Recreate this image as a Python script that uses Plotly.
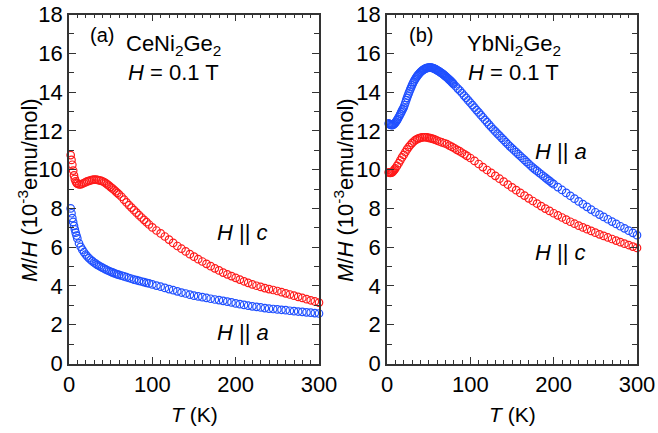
import plotly.graph_objects as go

# Temperature grid (K) used for CeNi2Ge2 and YbNi2Ge2 H||c
T = [2, 3, 4, 5, 6, 7, 8, 9, 10,
     12, 14, 16, 18, 20, 22, 24, 26, 28, 30, 32, 34, 36, 38, 40, 42, 44, 46, 48, 50,
     52, 54, 56, 58, 60,
     63, 66, 69, 72, 75, 78, 81, 84, 87, 90, 93, 96,
     100, 105, 110, 115, 120, 125, 130, 135, 140, 145, 150, 155, 160, 165, 170, 175,
     180, 185, 190, 195, 200, 205, 210, 215, 220, 225, 230, 235, 240, 245, 250, 255,
     260, 265, 270, 275, 280, 285, 290, 295, 300]

# denser temperature grid for YbNi2Ge2 H||a
T_yb_a = [2, 3, 4, 5, 6, 7, 8, 9, 10, 11, 12, 13, 14, 15, 16, 17, 18, 19, 20,
          21, 22, 23, 24, 25, 26, 27, 28, 29, 30, 31, 32, 33, 34, 35, 36, 37, 38, 39, 40,
          41, 42, 43, 44, 45, 46, 47, 48, 49, 50, 51, 52, 53, 54, 55, 56, 57, 58, 59, 60,
          61, 62, 63, 64, 65, 66, 67, 68, 69, 70, 71, 72, 73, 74, 75, 76, 77, 78, 79, 80,
          82.5, 85, 87.5, 90, 92.5, 95, 97.5, 100, 102.5, 105, 107.5, 110, 112.5, 115, 117.5, 120,
          122.5, 125, 127.5, 130, 132.5, 135, 137.5, 140, 142.5, 145, 147.5, 150, 152.5, 155, 157.5, 160,
          162.5, 165, 167.5, 170, 172.5, 175, 177.5, 180, 182.5, 185, 187.5, 190, 192.5, 195, 197.5, 200,
          205, 210, 215, 220, 225, 230, 235, 240, 245, 250, 255, 260, 265, 270, 275, 280,
          285, 290, 295, 300]

# (a) CeNi2Ge2, M/H in 1e-3 emu/mol
ce_c = [10.75, 10.5, 10.25, 9.95, 9.7, 9.52, 9.4, 9.32, 9.28,
        9.24, 9.24, 9.27, 9.31, 9.35, 9.39, 9.42, 9.45, 9.47, 9.48, 9.48, 9.47, 9.45, 9.43, 9.4, 9.36, 9.3, 9.24, 9.17, 9.1,
        9.03, 8.96, 8.88, 8.8, 8.72,
        8.6, 8.45, 8.31, 8.17, 8.04, 7.91, 7.78, 7.65, 7.53, 7.41, 7.29, 7.17,
        7.02, 6.86, 6.71, 6.55, 6.39, 6.22, 6.06, 5.92, 5.78, 5.64, 5.51, 5.38, 5.26, 5.14, 5.02, 4.91,
        4.8, 4.69, 4.6, 4.51, 4.42, 4.33, 4.24, 4.16, 4.08, 4.01, 3.95, 3.89, 3.84, 3.79, 3.74, 3.68,
        3.62, 3.56, 3.5, 3.44, 3.38, 3.32, 3.26, 3.2, 3.14]
ce_a = [8.0, 7.75, 7.5, 7.3, 7.1, 6.92, 6.75, 6.6, 6.45,
        6.2, 6.02, 5.87, 5.74, 5.62, 5.52, 5.43, 5.35, 5.28, 5.21, 5.15, 5.09, 5.04, 4.99, 4.94, 4.9, 4.85, 4.81, 4.77, 4.73,
        4.7, 4.66, 4.63, 4.6, 4.57,
        4.53, 4.49, 4.45, 4.41, 4.37, 4.33, 4.3, 4.26, 4.23, 4.2, 4.16, 4.13,
        4.08, 4.02, 3.96, 3.9, 3.84, 3.78, 3.72, 3.66, 3.61, 3.55, 3.5, 3.46, 3.42, 3.38, 3.34, 3.3,
        3.27, 3.23, 3.19, 3.15, 3.1, 3.06, 3.02, 2.98, 2.95, 2.92, 2.89, 2.86, 2.83, 2.81, 2.79, 2.77,
        2.75, 2.72, 2.7, 2.68, 2.66, 2.64, 2.62, 2.6, 2.58]

# (b) YbNi2Ge2
yb_a = [12.38, 12.35, 12.32, 12.3, 12.29, 12.3, 12.33, 12.37, 12.42, 12.48, 12.55, 12.62, 12.7, 12.78, 12.87, 12.95, 13.04, 13.12, 13.2,
        13.32, 13.45, 13.58, 13.7, 13.82, 13.93, 14.04, 14.15, 14.25, 14.35, 14.44, 14.53, 14.61, 14.68, 14.75, 14.81, 14.87, 14.92, 14.97, 15.02,
        15.06, 15.1, 15.13, 15.16, 15.19, 15.21, 15.23, 15.24, 15.25, 15.26, 15.26, 15.26, 15.26, 15.25, 15.24, 15.22, 15.2, 15.18, 15.16, 15.13,
        15.1, 15.08, 15.05, 15.02, 14.99, 14.96, 14.93, 14.9, 14.86, 14.82, 14.79, 14.75, 14.71, 14.67, 14.63, 14.59, 14.55, 14.5, 14.46, 14.41,
        14.3, 14.18, 14.07, 13.95, 13.82, 13.7, 13.57, 13.45, 13.33, 13.2, 13.07, 12.95, 12.82, 12.7, 12.57, 12.45,
        12.32, 12.2, 12.08, 11.97, 11.86, 11.75, 11.64, 11.53, 11.42, 11.31, 11.2, 11.1, 11.0, 10.9, 10.8, 10.7,
        10.6, 10.5, 10.4, 10.3, 10.2, 10.1, 10.01, 9.93, 9.84, 9.76, 9.67, 9.59, 9.5, 9.42, 9.33, 9.25,
        9.1, 8.95, 8.8, 8.65, 8.5, 8.36, 8.22, 8.08, 7.94, 7.8, 7.68, 7.56, 7.44, 7.32, 7.2, 7.08,
        6.97, 6.85, 6.74, 6.62]
yb_c = [9.86, 9.84, 9.83, 9.84, 9.86, 9.9, 9.95, 10.0, 10.06,
        10.19, 10.33, 10.48, 10.63, 10.76, 10.9, 11.04, 11.16, 11.27, 11.37, 11.45, 11.52, 11.57, 11.61, 11.64, 11.66, 11.67, 11.67, 11.66, 11.64,
        11.62, 11.6, 11.57, 11.54, 11.5,
        11.45, 11.4, 11.36, 11.31, 11.24, 11.17, 11.1, 11.02, 10.95, 10.87, 10.79, 10.71,
        10.6, 10.45, 10.29, 10.13, 9.98, 9.83, 9.68, 9.53, 9.38, 9.23, 9.08, 8.94, 8.8, 8.66, 8.52, 8.38,
        8.25, 8.12, 7.99, 7.87, 7.75, 7.64, 7.53, 7.42, 7.31, 7.21, 7.11, 7.02, 6.93, 6.84, 6.75, 6.66,
        6.58, 6.5, 6.42, 6.34, 6.26, 6.18, 6.11, 6.03, 5.96]

x_ticks = [0, 100, 200, 300]
y_ticks = [0, 2, 4, 6, 8, 10, 12, 14, 16, 18]

RED = "#ff1a1a"
BLUE = "#2050ff"
FONT = "Liberation Sans, Arial, Helvetica, sans-serif"
W, H = 658, 433

fig = go.Figure()

def add(x, y, color, xa, ya):
    fig.add_trace(go.Scatter(
        x=x, y=y, mode="markers", xaxis=xa, yaxis=ya, cliponaxis=False,
        marker=dict(symbol="circle-open", size=7.5, color=color, line=dict(width=1.2, color=color)),
        showlegend=False))

add(T, ce_c, RED, "x", "y")
add(T, ce_a, BLUE, "x", "y")
add(T_yb_a, yb_a, BLUE, "x2", "y2")
add(T, yb_c, RED, "x2", "y2")

def px(x):
    return x / W

def py(y):
    return 1 - y / H

axis_common = dict(
    showline=True, linecolor="#333", linewidth=1.5, mirror="allticks",
    ticks="inside", ticklen=7, tickwidth=1.3, tickcolor="#333",
    showgrid=False, zeroline=False, ticklabeloverflow="allow",
    tickfont=dict(family=FONT, size=22, color="black"),
)

xdom1 = [px(69), px(319)]
xdom2 = [px(387), px(637)]
ydom = [py(363.5), py(14.5)]

fig.update_layout(
    width=W, height=H,
    margin=dict(l=0, r=0, t=0, b=0, autoexpand=False),
    paper_bgcolor="white", plot_bgcolor="white",
    xaxis=dict(domain=xdom1, range=[0, 300], tickvals=x_ticks, anchor="y",
               minor=dict(dtick=10, ticklen=4, tickwidth=1.2, tickcolor="#333", ticks="inside"),
               **axis_common),
    yaxis=dict(domain=ydom, range=[0, 18], tickvals=y_ticks, anchor="x",
               minor=dict(dtick=1, ticklen=5, tickwidth=1.2, tickcolor="#333", ticks="inside"),
               **axis_common),
    xaxis2=dict(domain=xdom2, range=[0, 300], tickvals=x_ticks, anchor="y2",
                minor=dict(dtick=10, ticklen=4, tickwidth=1.2, tickcolor="#333", ticks="inside"),
                **axis_common),
    yaxis2=dict(domain=ydom, range=[0, 18], tickvals=y_ticks, anchor="x2",
                minor=dict(dtick=1, ticklen=5, tickwidth=1.2, tickcolor="#333", ticks="inside"),
                **axis_common),
)

def ann(text, x, y, size=22, xanchor="left", yanchor="middle", angle=0):
    fig.add_annotation(text=text, x=px(x), y=py(y), xref="paper", yref="paper",
                       xanchor=xanchor, yanchor=yanchor, showarrow=False, textangle=angle,
                       font=dict(family=FONT, size=size, color="black"))

# panel (a)
ann("(a)", 88, 35, size=20)
ann("CeNi<sub>2</sub>Ge<sub>2</sub>", 124, 45)
ann("<i>H</i> = 0.1 T", 126, 72)
ann("<i>H</i> || <i>c</i>", 215, 232)
ann("<i>H</i> || <i>a</i>", 215, 332)
# panel (b)
ann("(b)", 407, 35, size=20)
ann("YbNi<sub>2</sub>Ge<sub>2</sub>", 465, 45)
ann("<i>H</i> = 0.1 T", 466, 72)
ann("<i>H</i> || <i>a</i>", 533, 152)
ann("<i>H</i> || <i>c</i>", 533, 252)

# axis titles
ytitle = "<i>M</i>/<i>H</i> (10<sup>-3</sup>emu/mol)"
ann(ytitle, 28, 190, size=22, xanchor="center", angle=-90)
ann(ytitle, 344, 190, size=22, xanchor="center", angle=-90)
ann("<i>T</i> (K)", 194, 414, size=21, xanchor="center")
ann("<i>T</i> (K)", 512, 414, size=21, xanchor="center")

# remove the default 8 px page margin so the figure fills the window exactly
fig.write_html("out.html", config={"displayModeBar": False},
               post_script="document.body.style.margin='0';")
